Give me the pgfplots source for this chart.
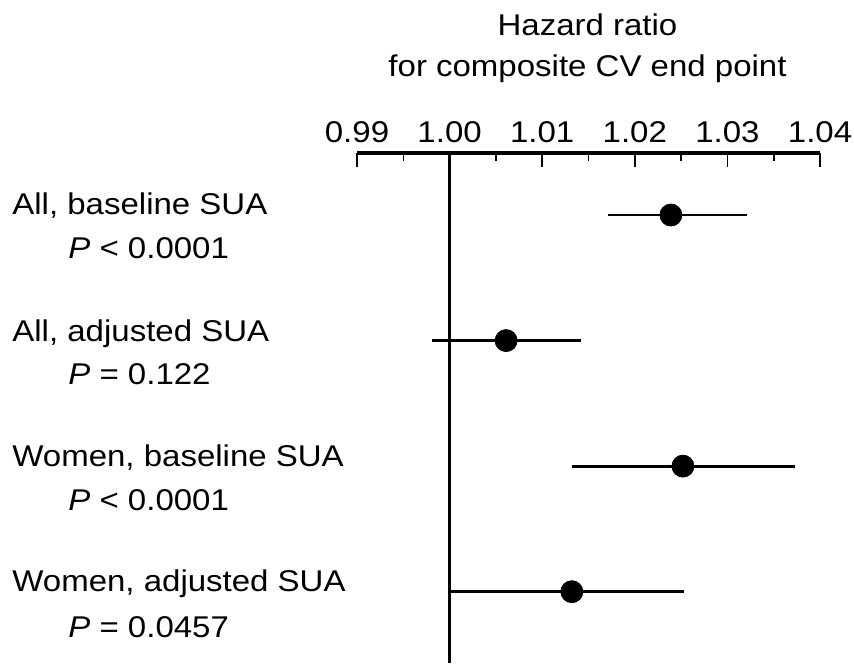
\documentclass[border=0pt]{standalone}
\usepackage{fontspec}
\setmainfont{Liberation Sans}[FakeStretch=1.1]
\usepackage{pgfplots}
\pgfplotsset{compat=1.18}

\pgfplotstableread{
row est ep em
1 1.0239 0.0082 0.0068
2 1.0061 0.0081 0.0080
3 1.0252 0.0121 0.0120
4 1.0132 0.0121 0.0130
}\hrdata

\begin{document}
\fontsize{15}{18}\selectfont
\begin{tikzpicture}
\useasboundingbox (0,0) rectangle (427pt,331.5pt);
\begin{axis}[
  at={(178.5pt,0pt)}, anchor=south west,
  scale only axis, width=231.5pt, height=255pt,
  xmin=0.99, xmax=1.04, ymin=0.506, ymax=4.568, y dir=reverse,
  axis x line=top, axis y line=none,
  axis line style={-, line width=1.6pt},
  xtick={0.99,1.00,1.01,1.02,1.03,1.04},
  xticklabels={0.99,1.00,1.01,1.02,1.03,1.04},
  minor xtick={0.995,1.005,1.015,1.025,1.035},
  xtick align=inside,
  major tick length=7pt, minor tick length=4pt,
  every tick/.style={black, line width=0.8pt},
  tick label style={font=\fontsize{15}{18}\selectfont},
  /pgf/number format/assume math mode=true,
  clip=false,
]
\draw[line width=1.4pt] (axis cs:1,0.506) -- (axis cs:1,4.568);
\addplot+[black, only marks, mark=*, mark size=5.5pt,
  mark options={fill=black, draw=black},
  error bars/.cd, x dir=both, x explicit, error mark=none,
  error bar style={line width=1.4pt, black}]
  table[x=est, y=row, x error plus=ep, x error minus=em] {\hrdata};
\end{axis}
\node[anchor=base] at (293.75pt,313.5pt) {Hazard ratio};
\node[anchor=base] at (293.75pt,293pt) {for composite CV end point};
\node[anchor=base west, inner sep=0pt] at (6pt,224pt) {All, baseline SUA};
\node[anchor=base west, inner sep=0pt] at (34pt,202pt) {\textit{P} < 0.0001};
\node[anchor=base west, inner sep=0pt] at (6pt,160.65pt) {All, adjusted SUA};
\node[anchor=base west, inner sep=0pt] at (34pt,139pt) {\textit{P} = 0.122};
\node[anchor=base west, inner sep=0pt] at (6pt,98.5pt) {Women, baseline SUA};
\node[anchor=base west, inner sep=0pt] at (34pt,76.5pt) {\textit{P} < 0.0001};
\node[anchor=base west, inner sep=0pt] at (6pt,35.65pt) {Women, adjusted SUA};
\node[anchor=base west, inner sep=0pt] at (34pt,13pt) {\textit{P} = 0.0457};
\end{tikzpicture}
\end{document}
